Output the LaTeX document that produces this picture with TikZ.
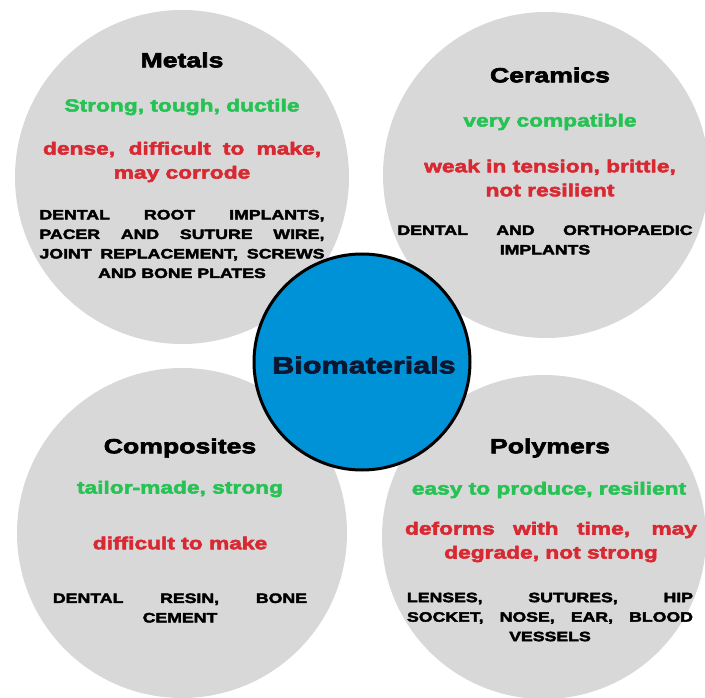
\documentclass[tikz,border=0pt]{standalone}
\usepackage{fontspec}
\setmainfont{Liberation Sans}
\newfontfamily\heavy[FakeStretch=1.3,FakeBold=3]{Liberation Sans}
\definecolor{bubblegray}{RGB}{216,216,216}
\definecolor{hubblue}{RGB}{0,146,214}
\definecolor{hubtext}{RGB}{12,22,48}
\definecolor{goodgreen}{RGB}{38,194,84}
\definecolor{badred}{RGB}{216,40,50}
% justified lines, last line centred
\newcommand\jtext[1]{{\spaceskip=0pt\xspaceskip=0pt\hyphenpenalty=10000\exhyphenpenalty=10000\tolerance=9999\hbadness=10000\leftskip=0pt plus 1fil\rightskip=0pt plus -1fil\parfillskip=0pt plus 2fil\relax #1\par}}
\begin{document}
\begin{tikzpicture}[x=1pt,y=-1pt,
  bubble/.style={circle, fill=bubblegray, inner sep=0pt, minimum size=#1},
  hub/.style={circle, fill=hubblue, draw=black, line width=3pt, inner sep=0pt, minimum size=#1},
  title/.style={inner sep=0pt, font=\heavy\bfseries\fontsize{20.5}{24}\selectfont},
  pro/.style={inner sep=0pt, text=goodgreen, font=\heavy\bfseries\fontsize{17.5}{24}\selectfont},
  con/.style={inner sep=0pt, text=badred, font=\heavy\bfseries\fontsize{17.5}{24}\selectfont},
  use/.style={inner sep=0pt, font=\heavy\bfseries\fontsize{13.6}{19.5}\selectfont}
]
\useasboundingbox (0,0) rectangle (705,698);
\node[bubble=334pt] (metals) at (182,177) {};
\node[bubble=326pt] (ceramics) at (546,175) {};
\node[bubble=330pt] (composites) at (182,533) {};
\node[bubble=324pt] (polymers) at (544,537) {};
\node[hub=216pt] (bio) at (362,362) {};
\node[text=hubtext, inner sep=0pt, font=\heavy\bfseries\fontsize{23.5}{28}\selectfont] (biotext) at (364,365) {Biomaterials};

% Metals
\node[title] (metalsT) at (182,60) {Metals};
\node[pro] (metalsP) at (182,107) {Strong, tough, ductile};
\node[con, text width=278pt] (metalsC) at (182,162) {\jtext{dense, difficult to make, may corrode}};
\node[use, text width=285pt] (metalsU) at (182,244) {\jtext{DENTAL ROOT IMPLANTS, PACER AND SUTURE WIRE, JOINT REPLACEMENT, SCREWS AND BONE PLATES}};

% Ceramics
\node[title] (ceramicsT) at (550,75) {Ceramics};
\node[pro] (ceramicsP) at (550,122) {very compatible};
\node[con, align=center] (ceramicsC) at (550,178) {weak in tension, brittle,\\not resilient};
\node[use, text width=295pt] (ceramicsU) at (545,240) {\jtext{DENTAL AND ORTHOPAEDIC IMPLANTS}};

% Composites
\node[title] (compositesT) at (180,448) {Composites};
\node[pro] (compositesP) at (180,489) {tailor-made, strong};
\node[con] (compositesC) at (180,543) {difficult to make};
\node[use, text width=254pt] (compositesU) at (180,608) {\jtext{DENTAL RESIN, BONE CEMENT}};

% Polymers
\node[title] (polymersT) at (550,448) {Polymers};
\node[pro] (polymersP) at (549,490) {easy to produce, resilient};
\node[con, text width=292pt] (polymersC) at (551,542) {\jtext{deforms with time, may degrade, not strong}};
\node[use, text width=286pt] (polymersU) at (550,617) {\jtext{LENSES, SUTURES, HIP\linebreak SOCKET, NOSE, EAR, BLOOD VESSELS}};
\end{tikzpicture}
\end{document}
